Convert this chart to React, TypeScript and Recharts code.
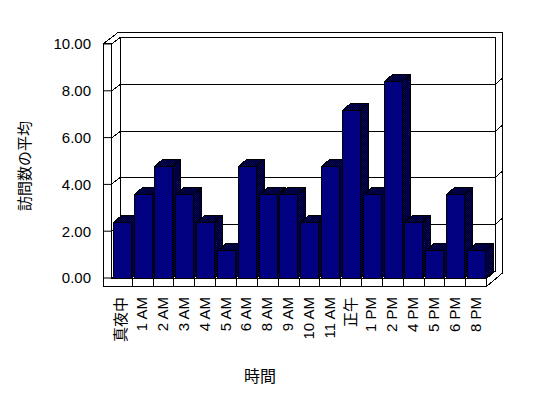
import React from 'react';
import { BarChart, Bar, XAxis, YAxis, CartesianGrid } from 'recharts';

const HOURS = [
  '真夜中', '1 AM', '2 AM', '3 AM', '4 AM', '5 AM', '6 AM', '8 AM', '9 AM',
  '10 AM', '11 AM', '正午', '1 PM', '2 PM', '4 PM', '5 PM', '6 PM', '8 PM',
];
const AVG_VISITS = [2.4, 3.6, 4.8, 3.6, 2.4, 1.2, 4.8, 3.6, 3.6, 2.4, 4.8, 7.2, 3.6, 8.4, 2.4, 1.2, 3.6, 1.2];
const Y_TICKS = [0, 2, 4, 6, 8, 10];

const data = HOURS.map((h, i) => ({ hour: h, avg: AVG_VISITS[i] }));

const FONT = "'Liberation Sans', 'Noto Sans CJK JP', sans-serif";
const W = 548;
const H = 398;
// front plot box
const LEFT = 111;
const RIGHT = 486;
const TOP = 44;
const BOTTOM = 278;
const DX = 9;
const DY = 7;
const CAT_W = (RIGHT - LEFT) / HOURS.length;

const Column = (props: any) => {
  const { x, y, width, height } = props;
  if (height <= 0) return null;
  const x0 = Math.round(x) + 0.5;
  const x1 = Math.round(x + width) + 0.5;
  const y0 = Math.round(y) + 0.5;
  const y1 = Math.round(y + height) + 0.5;
  const dx = 8;
  const dy = 7;
  return (
    <g shapeRendering="crispEdges">
      <polygon
        points={`${x1},${y0} ${x1 + dx},${y0 - dy} ${x1 + dx},${y1 - dy} ${x1},${y1}`}
        fill="url(#dither)"
        stroke="#000"
      />
      <polygon
        points={`${x0},${y0} ${x0 + dx},${y0 - dy} ${x1 + dx},${y0 - dy} ${x1},${y0}`}
        fill="url(#dither)"
        stroke="#000"
      />
      <rect x={x0} y={y0} width={x1 - x0} height={y1 - y0} fill="#000080" stroke="#000" />
    </g>
  );
};

const GridLine = (props: any) => {
  const { x1, x2, y1, index } = props;
  const y = Math.round(y1) + 0.5;
  const isEdge = Math.abs(y1 - BOTTOM) < 1 || Math.abs(y1 - TOP) < 1;
  return (
    <g key={`g-${index}`} stroke="#000" fill="none" shapeRendering="crispEdges">
      <line x1={x1} y1={y} x2={x1 + DX} y2={y - DY} />
      <line x1={x1 + DX} y1={y - DY} x2={x2 + DX} y2={y - DY} />
      {!isEdge && <line x1={x2 + DX} y1={y - DY} x2={x2 + DX + 7} y2={y - DY - 6} />}
    </g>
  );
};

const HourTick = (props: any) => {
  const { x, payload, index } = props;
  const cx = Math.round(x);
  return (
    <g>
      {index < HOURS.length - 1 && (
        <line
          x1={Math.round(x + CAT_W / 2) + 0.5}
          y1={BOTTOM}
          x2={Math.round(x + CAT_W / 2) + 0.5}
          y2={BOTTOM + 8}
          stroke="#000"
          shapeRendering="crispEdges"
        />
      )}
      <text
        x={cx}
        y={297}
        dy="0.36em"
        textAnchor="end"
        transform={`rotate(-90 ${cx} 297)`}
        fontSize={15}
        fontFamily={FONT}
        fill="#000"
      >
        {payload.value}
      </text>
    </g>
  );
};

const YTitle = () => (
  <text
    x={25}
    y={166}
    dy="0.36em"
    textAnchor="middle"
    transform="rotate(-90 25 166)"
    fontSize={15}
    fontFamily={FONT}
    fill="#000"
  >
    訪問数の平均
  </text>
);

const XTitle = () => (
  <text x={260} y={382} textAnchor="middle" fontSize={16} fontFamily={FONT} fill="#000">
    時間
  </text>
);

const Frame = () => (
  <svg width={W} height={H} style={{ position: 'absolute', left: 0, top: 0 }}>
    <g stroke="#000" fill="none" shapeRendering="crispEdges">
      {/* back wall slab */}
      <line x1={118} y1={32.5} x2={502} y2={32.5} />
      <line x1={103.5} y1={43.5} x2={118} y2={32.5} />
      <line x1={502.5} y1={32} x2={502.5} y2={273} />
      <line x1={495.5} y1={37} x2={495.5} y2={271} />
      <line x1={120.5} y1={37} x2={120.5} y2={271} />
      {/* left wall front face */}
      <line x1={103.5} y1={43} x2={103.5} y2={286.5} />
      <line x1={111.5} y1={43} x2={111.5} y2={278} />
      <line x1={103} y1={43.5} x2={111.5} y2={43.5} />
      {/* floor slab */}
      <line x1={111} y1={278.5} x2={486.5} y2={278.5} />
      <line x1={103} y1={286.5} x2={486.5} y2={286.5} />
      <line x1={486.5} y1={278} x2={486.5} y2={286.5} />
      <line x1={486.5} y1={286.5} x2={502.5} y2={273} />
      <line x1={486.5} y1={278.5} x2={495.5} y2={271} />
    </g>
  </svg>
);

export default function App() {
  return (
    <div style={{ position: 'absolute', left: 0, top: 0, width: W, height: H, background: '#fff' }}>
      <Frame />
      <div style={{ position: 'absolute', left: 0, top: 0 }}>
        <BarChart
          width={W}
          height={H}
          data={data}
          margin={{ top: TOP, right: W - RIGHT, left: LEFT - 60, bottom: 20 }}
          barCategoryGap="8%"
        >
          <defs>
            <pattern id="dither" width={2} height={2} patternUnits="userSpaceOnUse">
              <rect x={0} y={0} width={2} height={2} fill="#000" />
              <rect x={0} y={0} width={1} height={1} fill="#000080" />
              <rect x={1} y={1} width={1} height={1} fill="#000080" />
            </pattern>
          </defs>
          <CartesianGrid vertical={false} horizontal={GridLine} />
          <XAxis
            dataKey="hour"
            height={100}
            interval={0}
            axisLine={false}
            tickLine={false}
            tick={<HourTick />}
            label={<XTitle />}
          />
          <YAxis
            width={60}
            domain={[0, 10]}
            ticks={Y_TICKS}
            axisLine={false}
            tickSize={8}
            tickMargin={12}
            tickLine={{ stroke: '#000' }}
            tickFormatter={(v: number) => v.toFixed(2)}
            tick={{ fill: '#000', fontSize: 15, fontFamily: FONT }}
            label={<YTitle />}
          />
          <Bar dataKey="avg" shape={<Column />} isAnimationActive={false} />
        </BarChart>
      </div>
    </div>
  );
}
